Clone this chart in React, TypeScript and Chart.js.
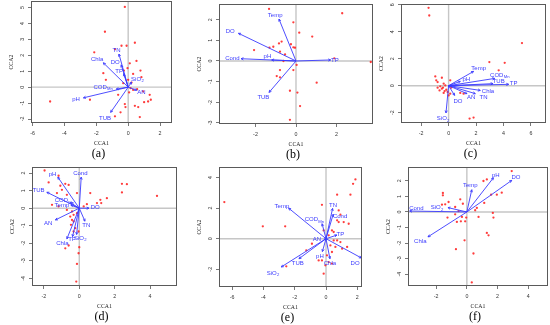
import React, { useEffect, useRef } from "react";
import { Chart, registerables } from "chart.js";
Chart.register(...registerables);

// ---------- Panel (a) ----------
const aSites: number[][] = [
  [-0.21, 5.04], [-1.46, 3.48], [0.42, 2.79], [-0.42, 2.6], [-0.1, 2.6], [-2.13, 2.19], [-0.83, 2.38],
  [0.52, 1.65], [0.1, 1.5], [0.77, 1.04], [-0.04, 1.19], [-0.27, 1.04], [-1.56, 0.88], [0.31, 0.83],
  [0.83, 0.63], [-1.4, 0.46], [0.21, 0.29], [0.15, -0.06], [0.31, -0.17], [0.56, -0.13], [0.94, -0.27],
  [1.35, -0.48], [1.42, -0.79], [1.25, -0.9], [1.0, -0.94], [0.42, -1.17], [0.63, -1.25], [-0.21, -1.06],
  [-0.17, -1.25], [-0.48, -1.58], [-0.83, -1.83], [0.73, -1.88], [-2.4, -0.79], [-4.9, -0.9],
  [-0.63, -0.48], [0.06, -0.33], [0.0, 0.46], [-0.31, 0.25],
];
const aNames = ["TN", "DO", "TP", "Chla", "SiO_2", "COD_Mn", "pH", "TUB", "AN"];
const aTipX = [-0.58, -0.44, -0.28, -1.56, 0.21, -0.75, -2.81, -1.1, 0.54];
const aTipY = [2.08, 1.4, 0.85, 1.53, 0.32, -0.12, -0.67, -1.58, -0.19];
const aLabX = [-0.73, -0.81, -0.57, -1.95, 0.57, -1.58, -3.27, -1.45, 0.83];
const aLabY = [2.33, 1.58, 0.97, 1.72, 0.5, 0.02, -0.79, -1.93, -0.3];

// ---------- Panel (b) ----------
const bSites: number[][] = [
  [-1.33, 2.52], [2.28, 2.31], [-0.13, 1.87], [0.16, 1.37], [0.8, 1.18], [-0.71, 0.94], [-0.84, 0.85],
  [-0.25, 0.81], [-0.13, 0.66], [-0.05, 0.64], [-1.12, 0.69], [-1.31, 0.65], [-2.07, 0.53], [-0.79, 0.45],
  [-0.54, 0.32], [-0.62, 0.0], [1.89, 0.13], [0.03, -0.19], [-0.13, -0.44], [-0.79, -0.44], [-0.95, -0.73],
  [-0.79, -0.79], [1.02, -1.05], [-0.3, -1.44], [0.07, -1.53], [0.2, -2.18], [-0.3, -2.85], [3.69, -0.05],
];
const bNames = ["Temp", "DO", "Cond", "pH", "TP", "TUB"];
const bTipX = [-0.84, -2.84, -2.71, -1.2, 1.71, -1.33];
const bTipY = [2.03, 1.34, 0.11, 0.05, 0.05, -1.52];
const bLabX = [-1.03, -3.25, -3.14, -1.41, 1.92, -1.61];
const bLabY = [2.23, 1.42, 0.11, 0.24, 0.05, -1.77];

// ---------- Panel (c) ----------
const cSites: number[][] = [
  [-1.46, 5.78], [-1.41, 5.21], [5.35, 3.16], [4.09, 1.7], [2.97, 1.75], [3.65, 1.14], [-0.97, 0.69],
  [-0.49, 0.59], [0.12, 0.4], [-0.8, 0.27], [-0.36, 0.15], [-0.61, -0.05], [-0.41, -0.15], [-0.24, 0.02],
  [-0.17, -0.3], [-0.07, -0.47], [0.12, -0.59], [-0.36, -0.54], [0.0, -0.72], [-0.8, -0.15], [-0.66, -0.35],
  [-0.29, -0.4], [1.53, -2.44], [1.82, -2.37], [0.19, -0.15], [-0.49, -0.22], [0.85, -0.54], [1.09, -0.59],
  [-0.9, 0.4],
];
const cNames = ["Temp", "pH", "COD_Mn", "TUB", "TP", "Chla", "TN", "AN", "DO", "SiO_2"];
const cTipX = [1.82, 0.85, 3.36, 3.24, 4.38, 2.31, 1.95, 1.34, 0.44, -0.19];
const cTipY = [1.06, 0.32, 0.54, 0.15, 0.1, -0.35, -0.59, -0.59, -0.72, -2.02];
const cLabX = [2.19, 1.29, 3.72, 3.65, 4.74, 2.87, 2.55, 1.65, 0.68, -0.41];
const cLabY = [1.26, 0.44, 0.79, 0.32, 0.2, -0.4, -0.84, -0.89, -1.14, -2.44];

// ---------- Panel (d) ----------
const dSites: number[][] = [
  [-1.96, 2.15], [-1.17, 1.85], [-1.73, 1.47], [-0.6, 1.33], [-1.07, 1.28], [-0.79, 1.39], [-1.26, 0.86],
  [-0.7, 0.76], [-0.13, 0.86], [0.62, 0.86], [2.41, 1.39], [2.69, 1.37], [2.41, 0.9], [4.39, 0.7],
  [1.56, 0.57], [1.19, 0.48], [1.24, 0.29], [1.0, 0.29], [0.43, 0.23], [-1.54, 0.19], [-1.17, 0.1],
  [-0.7, -0.1], [-0.41, -0.19], [-0.32, -0.38], [-0.13, -0.29], [-0.51, -0.48], [-0.41, -0.67],
  [-0.32, -0.76], [-0.47, -0.95], [-0.32, -1.33], [-0.23, -1.14], [-0.04, -1.33], [-0.6, -2.13],
  [-0.79, -2.29], [0.0, -2.23], [-0.04, -2.57], [-0.13, -3.18], [-0.17, -4.19], [-0.98, 1.05], [0.25, 0.1],
];
const dNames = ["pH", "Cond", "TUB", "COD_Mn", "Temp", "DO", "AN", "TN", "SiO_2", "TP", "Chla"];
const dTipX = [-1.21, 0.11, -1.83, -0.51, -0.47, 0.55, -1.35, 0.32, -0.15, -0.38, -0.7];
const dTipY = [1.77, 1.77, 0.91, 0.32, 0.17, 0.0, -0.67, -0.74, -1.5, -1.62, -1.75];
const dLabX = [-1.51, 0.06, -2.3, -0.85, -0.98, 0.9, -1.75, 0.4, 0.05, -0.41, -0.95];
const dLabY = [1.94, 1.96, 1.0, 0.42, 0.19, 0.03, -0.86, -1.0, -1.7, -1.76, -1.98];

// ---------- Panel (e) ----------
const eSites: number[][] = [
  [-6.5, 2.4], [-4.04, 0.81], [-2.61, 0.81], [1.88, 3.88], [1.73, 3.59], [0.71, 2.88], [1.56, 2.88],
  [-0.26, 2.22], [0.81, 1.85], [0.92, 1.57], [1.13, 1.09], [0.81, 1.09], [-0.15, 0.54], [0.38, 0.54],
  [0.49, 0.44], [0.17, 0.22], [0.49, -0.11], [0.71, -0.11], [0.92, -0.22], [0.28, -0.44], [0.6, -0.54],
  [1.03, -0.65], [0.38, -0.87], [0.06, -1.09], [-0.26, -1.42], [-0.47, -1.42], [-0.04, -1.74],
  [0.17, -1.53], [0.38, -1.63], [-0.15, -2.29], [-2.54, -1.81], [1.35, -0.54], [-0.9, -0.33],
  [-1.26, -0.76], [0.71, 1.2], [1.45, 0.98],
];
const eNames = ["Temp", "TN", "Cond", "COD_Mn", "TP", "AN", "pH", "Chla", "DO", "TUB", "SiO_2"];
const eTipX = [-2.39, 0.42, 0.46, -0.25, 0.7, -0.11, -0.23, 0.25, 2.26, -1.73, -2.86];
const eTipY = [2.0, 1.98, 1.6, 0.98, 0.24, -0.04, -0.84, -1.31, -1.26, -1.31, -1.85];
const eLabX = [-2.82, 0.45, 0.9, -0.75, 0.92, -0.58, -0.39, 0.25, 1.86, -1.8, -3.4];
const eLabY = [2.14, 2.18, 1.47, 1.25, 0.3, -0.06, -1.17, -1.62, -1.6, -1.62, -2.24];

// ---------- Panel (f) ----------
const fSites: number[][] = [
  [2.92, 2.63], [1.08, 1.99], [1.3, 2.09], [-1.56, 1.22], [-1.56, 1.07], [-0.43, 0.81], [-1.19, 0.64],
  [-1.41, 0.49], [-1.62, 0.47], [-0.26, 0.53], [-0.76, 0.32], [-0.54, 0.06], [0.65, 0.26], [0.54, 0.11],
  [1.13, 0.58], [1.58, 1.11], [1.95, 1.11], [2.27, 1.24], [-1.26, -0.36], [-0.76, -0.15], [-0.32, -0.32],
  [-0.04, -0.36], [-0.11, -0.6], [-0.39, -0.6], [-0.65, -0.64], [0.76, -0.32], [1.69, -0.06],
  [1.73, -0.36], [1.3, -1.35], [1.41, -1.5], [-0.15, -1.82], [-0.71, -2.39], [0.43, -2.67], [0.32, -4.53],
];
const fNames = ["pH", "DO", "Temp", "SiO_2", "Cond", "Chla"];
const fTipX = [1.73, 2.92, 0.32, -1.23, -3.72, -2.53];
const fTipY = [2.2, 2.03, 1.43, 0.28, 0.06, -1.6];
const fLabX = [1.88, 3.2, 0.22, -1.95, -3.29, -3.03];
const fLabY = [2.35, 2.2, 1.71, 0.28, 0.21, -1.92];

type PanelDef = {
  tag: string;
  sites: number[][];
  names: string[];
  tipX: number[];
  tipY: number[];
  labX: number[];
  labY: number[];
  box: [number, number, number, number]; // left, top, right, bottom (page px)
  xr: [number, number];
  yr: [number, number];
  xs: number;
  ys: number;
};

const panels: PanelDef[] = [
  { tag: "(a)", sites: aSites, names: aNames, tipX: aTipX, tipY: aTipY, labX: aLabX, labY: aLabY,
    box: [31, 1, 172, 123], xr: [-6.1, 2.75], yr: [-2.25, 5.4], xs: 2, ys: 1 },
  { tag: "(b)", sites: bSites, names: bNames, tipX: bTipX, tipY: bTipY, labX: bLabX, labY: bLabY,
    box: [219, 4, 373, 124], xr: [-3.8, 3.8], yr: [-3.05, 2.75], xs: 2, ys: 1 },
  { tag: "(c)", sites: cSites, names: cNames, tipX: cTipX, tipY: cTipY, labX: cLabX, labY: cLabY,
    box: [401, 4, 546, 123], xr: [-3.47, 7.1], yr: [-2.77, 6.05], xs: 2, ys: 2 },
  { tag: "(d)", sites: dSites, names: dNames, tipX: dTipX, tipY: dTipY, labX: dLabX, labY: dLabY,
    box: [32, 167, 177, 286], xr: [-2.67, 5.52], yr: [-4.44, 2.34], xs: 2, ys: 1 },
  { tag: "(e)", sites: eSites, names: eNames, tipX: eTipX, tipY: eTipY, labX: eLabX, labY: eLabY,
    box: [219, 167, 362, 287], xr: [-6.84, 2.3], yr: [-3.16, 4.68], xs: 2, ys: 2 },
  { tag: "(f)", sites: fSites, names: fNames, tipX: fTipX, tipY: fTipY, labX: fLabX, labY: fLabY,
    box: [408, 167, 548, 286], xr: [-3.83, 5.28], yr: [-4.76, 2.88], xs: 2, ys: 1 },
];

const YW = 30; // y-axis area width
const XH = 26; // x-axis area height
const PT = 6;
const PR = 4;
const BLUE = "#3a3aff";
const SANS = '"Liberation Sans", Arial, sans-serif';
const SERIF = '"Liberation Serif", "Times New Roman", serif';

function drawName(ctx: CanvasRenderingContext2D, name: string, cx: number, cy: number) {
  const [main, sub] = name.split("_");
  const fs = 6;
  const mainFont = `${fs}px ${SANS}`;
  const subFont = `${fs * 0.7}px ${SANS}`;
  ctx.font = mainFont;
  const wm = ctx.measureText(main).width;
  let ws = 0;
  if (sub) {
    ctx.font = subFont;
    ws = ctx.measureText(sub).width;
  }
  const left = cx - (wm + ws) / 2;
  ctx.textAlign = "left";
  ctx.textBaseline = "middle";
  ctx.fillStyle = BLUE;
  ctx.font = mainFont;
  ctx.fillText(main, left, cy);
  if (sub) {
    ctx.font = subFont;
    ctx.fillText(sub, left + wm + 0.3, cy + fs * 0.35);
  }
}

function Panel({ p }: { p: PanelDef }) {
  const ref = useRef<HTMLCanvasElement | null>(null);
  const [l, t, r, b] = p.box;
  const cw = r - l + YW + PR;
  const ch = b - t + PT + XH;

  useEffect(() => {
    if (!ref.current) return;
    const biplot = {
      id: "biplot" + p.tag,
      beforeDatasetsDraw(chart: any) {
        const { ctx, chartArea: ca, scales } = chart;
        const x0 = scales.x.getPixelForValue(0);
        const y0 = scales.y.getPixelForValue(0);
        ctx.save();
        ctx.strokeStyle = "#c6c6c6";
        ctx.lineWidth = 1.4;
        ctx.beginPath();
        ctx.moveTo(ca.left, y0);
        ctx.lineTo(ca.right, y0);
        ctx.moveTo(x0, ca.top);
        ctx.lineTo(x0, ca.bottom);
        ctx.stroke();
        ctx.restore();
      },
      afterDatasetsDraw(chart: any) {
        const { ctx, chartArea: ca, scales } = chart;
        const x0 = scales.x.getPixelForValue(0);
        const y0 = scales.y.getPixelForValue(0);
        ctx.save();
        ctx.strokeStyle = BLUE;
        ctx.lineWidth = 0.9;
        p.names.forEach((_, i) => {
          const tx = scales.x.getPixelForValue(p.tipX[i]);
          const ty = scales.y.getPixelForValue(p.tipY[i]);
          const ang = Math.atan2(ty - y0, tx - x0);
          const hl = 2.6;
          ctx.beginPath();
          ctx.moveTo(tx - hl * Math.cos(ang - 0.45), ty - hl * Math.sin(ang - 0.45));
          ctx.lineTo(tx, ty);
          ctx.lineTo(tx - hl * Math.cos(ang + 0.45), ty - hl * Math.sin(ang + 0.45));
          ctx.stroke();
        });
        p.names.forEach((n, i) => {
          drawName(ctx, n, scales.x.getPixelForValue(p.labX[i]), scales.y.getPixelForValue(p.labY[i]));
        });
        ctx.strokeStyle = "#5a5a5a";
        ctx.lineWidth = 1;
        ctx.strokeRect(Math.round(ca.left) + 0.5, Math.round(ca.top) + 0.5,
          Math.round(ca.right - ca.left) - 1, Math.round(ca.bottom - ca.top) - 1);
        ctx.restore();
      },
    };

    const arrowSets = p.names.map((n, i) => ({
      type: "scatter" as const,
      label: n,
      data: [{ x: 0, y: 0 }, { x: p.tipX[i], y: p.tipY[i] }],
      showLine: true,
      borderColor: BLUE,
      borderWidth: 0.9,
      pointRadius: 0,
      order: 1,
    }));

    const tickFont = { size: 5.3, family: SANS };
    const titleFont = { size: 5.8, family: SERIF };

    const chart = new Chart(ref.current, {
      type: "scatter",
      data: {
        datasets: [
          {
            label: "sites",
            data: p.sites.map(([x, y]) => ({ x, y })),
            pointRadius: 1.15,
            pointBackgroundColor: "rgba(255,40,40,0.9)",
            pointBorderWidth: 0,
            order: 2,
          },
          ...arrowSets,
        ] as any,
      },
      options: {
        animation: false,
        responsive: false,
        events: [],
        layout: { padding: { top: PT, right: PR, left: 0, bottom: 0 } },
        plugins: { legend: { display: false }, tooltip: { enabled: false } },
        scales: {
          x: {
            type: "linear",
            min: p.xr[0],
            max: p.xr[1],
            afterFit: (s: any) => { s.height = XH; },
            grid: { drawOnChartArea: false, drawTicks: true, tickLength: 3, color: "#555", lineWidth: 0.8 },
            border: { display: false },
            ticks: { stepSize: p.xs, includeBounds: false, font: tickFont, color: "#333", padding: 4, maxRotation: 0, autoSkip: false },
            title: { display: true, text: "CCA1", font: titleFont, color: "#222", padding: { top: 0, bottom: 2.4 } },
          },
          y: {
            type: "linear",
            min: p.yr[0],
            max: p.yr[1],
            afterFit: (s: any) => { s.width = YW; },
            grid: { drawOnChartArea: false, drawTicks: true, tickLength: 3, color: "#555", lineWidth: 0.8 },
            border: { display: false },
            ticks: { stepSize: p.ys, includeBounds: false, font: tickFont, color: "#333", padding: 3,
              minRotation: 90, maxRotation: 90, crossAlign: "center", autoSkip: false },
            title: { display: true, text: "CCA2", font: titleFont, color: "#222", padding: { top: 7.2, bottom: 0 } },
          },
        },
      } as any,
      plugins: [biplot],
    });
    return () => chart.destroy();
  }, [p]);

  return (
    <>
      <canvas
        ref={ref}
        width={cw}
        height={ch}
        style={{ position: "absolute", left: l - YW, top: t - PT, width: cw, height: ch }}
      />
      <div
        style={{
          position: "absolute",
          left: (l + r) / 2 - 3 - 20,
          width: 40,
          top: b + 30 - 8,
          height: 16,
          lineHeight: "16px",
          textAlign: "center",
          fontFamily: SERIF,
          fontSize: 12,
          color: "#000",
        }}
      >
        {p.tag}
      </div>
    </>
  );
}

export default function App() {
  return (
    <div style={{ position: "absolute", left: 0, top: 0, width: 550, height: 325, overflow: "hidden", background: "#fff" }}>
      {panels.map((p) => (
        <Panel key={p.tag} p={p} />
      ))}
    </div>
  );
}
